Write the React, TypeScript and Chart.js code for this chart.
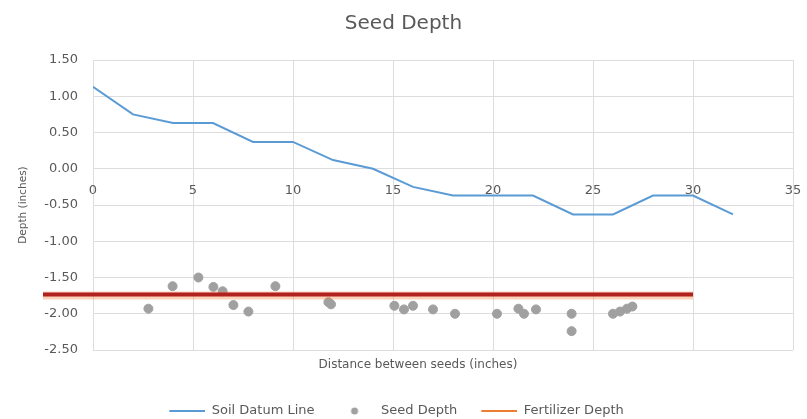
import React, { useEffect, useRef } from "react";
import { Chart, registerables } from "chart.js";

Chart.register(...registerables);

const soilX = [0, 2, 4, 6, 8, 10, 12, 14, 16, 18, 20, 22, 24, 26, 28, 30, 32];
const soilY = [1.13, 0.75, 0.63, 0.63, 0.37, 0.37, 0.12, 0, -0.25, -0.37, -0.37, -0.37, -0.63, -0.63, -0.37, -0.37, -0.63];

const seedX = [2.77, 3.98, 5.27, 6.02, 6.48, 7.02, 7.77, 9.12, 11.77, 11.9, 15.07, 15.55, 16.0, 17.0, 18.1, 20.2, 21.27, 21.55, 22.15, 23.93, 23.93, 26.0, 26.35, 26.7, 26.97];
const seedY = [-1.93, -1.62, -1.5, -1.63, -1.69, -1.88, -1.97, -1.62, -1.84, -1.87, -1.89, -1.94, -1.89, -1.94, -2.0, -2.0, -1.93, -2.0, -1.94, -2.0, -2.24, -2.0, -1.97, -1.93, -1.9];

const fertX = [-2.5, 30];
const fertY = [-1.735, -1.735];

const seriesNames = ["Soil Datum Line", "Seed Depth", "Fertilizer Depth"];
const seriesColors = ["#5B9BD5", "#A0A0A0", "#ED7D31"];
const xTitle = "Distance between seeds (inches)";

const FONT = "'DejaVu Sans', sans-serif";
const TEXT = "#595959";
const GRID = "#DDDDDD";

function lineIcon(color: string) {
  const c = document.createElement("canvas");
  c.width = 40;
  c.height = 6;
  const g = c.getContext("2d")!;
  g.strokeStyle = color;
  g.lineWidth = 2;
  g.beginPath();
  g.moveTo(4, 3);
  g.lineTo(40, 3);
  g.stroke();
  return c;
}

function dotIcon(color: string) {
  const c = document.createElement("canvas");
  c.width = 40;
  c.height = 10;
  const g = c.getContext("2d")!;
  g.fillStyle = color;
  g.beginPath();
  g.arc(20, 5, 3.5, 0, Math.PI * 2);
  g.fill();
  return c;
}

const layoutTweaks = {
  id: "layoutTweaks",
  afterLayout(chart: any) {
    if (chart.legend) {
      chart.legend.left -= 9;
      chart.legend.right -= 9;
    }
  },
  afterDraw(chart: any) {
    const s = chart.scales.x;
    const ctx = chart.ctx;
    ctx.save();
    ctx.fillStyle = TEXT;
    ctx.font = `12px ${FONT}`;
    ctx.textAlign = "center";
    ctx.textBaseline = "middle";
    ctx.fillText(xTitle, (s.left + s.right) / 2 - 25, s.bottom - 12 - 7.2);
    ctx.restore();
  },
};

export default function App() {
  const ref = useRef<HTMLCanvasElement | null>(null);

  useEffect(() => {
    if (!ref.current) return;
    const icons = [lineIcon(seriesColors[0]), dotIcon(seriesColors[1]), lineIcon(seriesColors[2])];
    const chart = new Chart(ref.current, {
      type: "scatter",
      plugins: [layoutTweaks],
      data: {
        datasets: [
          {
            label: seriesNames[0],
            type: "line",
            data: soilX.map((x, i) => ({ x, y: soilY[i] })),
            borderColor: seriesColors[0],
            borderWidth: 2,
            pointRadius: 0,
            fill: false,
            tension: 0,
            order: 3,
          },
          {
            label: seriesNames[1],
            data: seedX.map((x, i) => ({ x, y: seedY[i] })),
            backgroundColor: seriesColors[1],
            borderColor: seriesColors[1],
            pointRadius: 4.5,
            pointHoverRadius: 4.5,
            order: 2,
          },
          {
            label: "halo",
            type: "line",
            data: fertX.map((x, i) => ({ x, y: fertY[i] - 0.012 })),
            borderColor: "rgba(237,125,49,0.35)",
            borderWidth: 8,
            pointRadius: 0,
            clip: false,
            order: 1,
          },
          {
            label: seriesNames[2],
            type: "line",
            data: fertX.map((x, i) => ({ x, y: fertY[i] })),
            borderColor: "#B22020",
            borderWidth: 4,
            pointRadius: 0,
            clip: false,
            order: 0,
          },
        ],
      },
      options: {
        responsive: false,
        animation: false,
        layout: { padding: { left: 0, right: 0, top: 0, bottom: 0 } },
        plugins: {
          title: {
            display: true,
            text: "Seed Depth",
            color: TEXT,
            font: { family: FONT, size: 20, weight: "normal" },
            padding: { top: 12, bottom: 24 },
          },
          tooltip: { enabled: false },
          legend: {
            position: "bottom",
            maxHeight: 34.5,
            labels: {
              color: TEXT,
              font: { family: FONT, size: 13 },
              usePointStyle: true,
              pointStyleWidth: 40,
              padding: 20,
              generateLabels: () =>
                seriesNames.map((name, i) => ({
                  text: name,
                  fillStyle: seriesColors[i],
                  strokeStyle: seriesColors[i],
                  lineWidth: 0,
                  pointStyle: icons[i],
                  hidden: false,
                  datasetIndex: i === 2 ? 3 : i,
                  fontColor: TEXT,
                })),
            },
          },
        },
        scales: {
          x: {
            type: "linear",
            min: 0,
            max: 35,
            position: "bottom",
            ticks: { display: false, stepSize: 5 },
            grid: { color: GRID, drawTicks: false },
            border: { display: false },
            title: { display: false },
            afterFit: (s: any) => {
              s.height = 34.5;
              s.paddingLeft = 0;
              s.paddingRight = 14;
            },
          },
          x2: {
            type: "linear",
            min: 0,
            max: 35,
            position: { y: 0 },
            ticks: { stepSize: 5, color: TEXT, font: { family: FONT, size: 13 }, padding: 14 },
            grid: { display: false, drawTicks: false },
            border: { display: false },
            afterFit: (s: any) => {
              s.paddingLeft = 0;
              s.paddingRight = 0;
            },
          },
          y: {
            type: "linear",
            min: -2.5,
            max: 1.5,
            ticks: {
              stepSize: 0.5,
              color: TEXT,
              font: { family: FONT, size: 13 },
              padding: 15,
              callback: (v: any) => Number(v).toFixed(2),
            },
            grid: { color: GRID, drawTicks: false },
            border: { display: false },
            title: {
              display: true,
              text: "Depth (inches)",
              color: TEXT,
              font: { family: FONT, size: 10.5 },
              padding: { top: 17, bottom: 0 },
            },
            afterFit: (s: any) => {
              s.width = 93;
            },
          },
        },
      } as any,
    });
    return () => chart.destroy();
  }, []);

  return (
    <div style={{ position: "absolute", left: 0, top: 0, width: 807, height: 419, background: "#fff" }}>
      <canvas ref={ref} width={807} height={419} style={{ display: "block" }} />
    </div>
  );
}
